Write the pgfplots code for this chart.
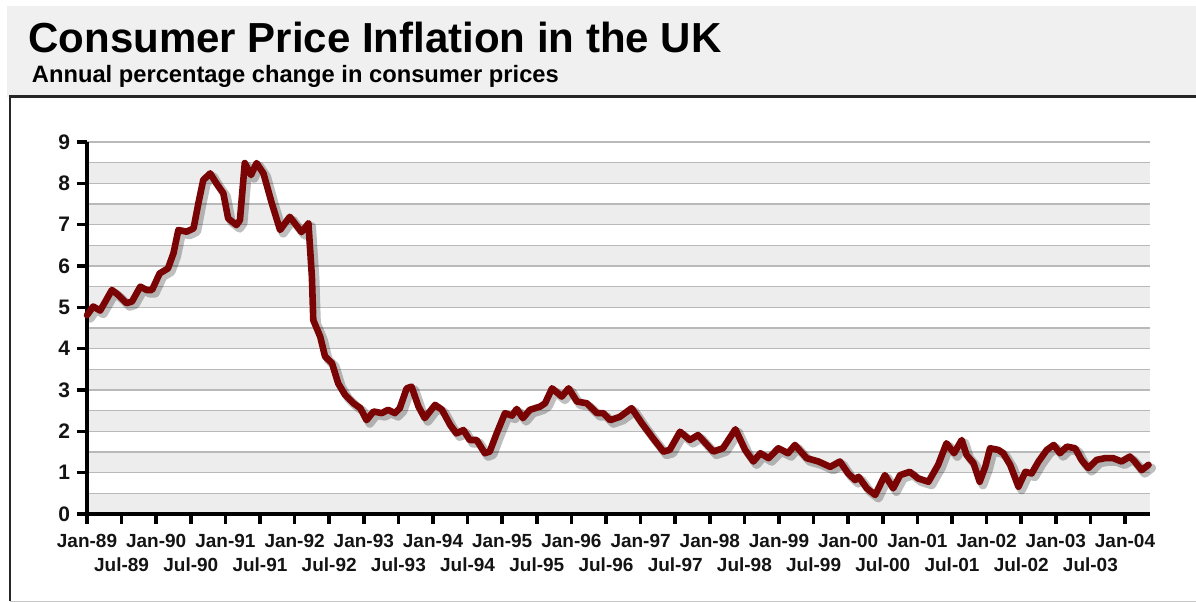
\documentclass[border=0pt]{standalone}
\usepackage{pgfplots}
\usepackage{pgfplotstable}
\pgfplotsset{compat=1.18}
\usepackage{fontspec}
\setmainfont{Liberation Sans}
\definecolor{hdr}{RGB}{240,240,240}
\definecolor{band}{RGB}{237,237,237}
\definecolor{gridc}{RGB}{185,185,185}
\definecolor{linec}{RGB}{122,4,4}
\pgfplotstableread{
t v
1989.00 4.81
1989.09 5.02
1989.19 4.92
1989.36 5.42
1989.45 5.30
1989.57 5.10
1989.65 5.14
1989.77 5.50
1989.86 5.42
1989.94 5.42
1990.05 5.82
1990.17 5.94
1990.25 6.31
1990.32 6.87
1990.44 6.83
1990.54 6.91
1990.61 7.52
1990.68 8.08
1990.78 8.24
1990.87 8.00
1990.97 7.76
1991.04 7.15
1991.16 6.99
1991.21 7.11
1991.28 8.49
1991.37 8.20
1991.45 8.49
1991.55 8.24
1991.67 7.52
1991.79 6.87
1991.93 7.19
1992.10 6.82
1992.20 7.03
1992.25 5.74
1992.27 4.69
1992.37 4.29
1992.44 3.81
1992.54 3.65
1992.63 3.16
1992.73 2.88
1992.85 2.68
1992.95 2.56
1993.04 2.27
1993.14 2.48
1993.26 2.44
1993.35 2.52
1993.45 2.44
1993.52 2.56
1993.62 3.04
1993.69 3.08
1993.79 2.60
1993.88 2.32
1994.03 2.64
1994.13 2.52
1994.25 2.15
1994.34 1.95
1994.44 2.03
1994.53 1.79
1994.63 1.79
1994.75 1.47
1994.82 1.51
1994.92 1.95
1995.04 2.44
1995.14 2.38
1995.21 2.54
1995.30 2.32
1995.40 2.52
1995.55 2.60
1995.62 2.68
1995.72 3.04
1995.86 2.84
1995.96 3.04
1996.08 2.72
1996.22 2.68
1996.37 2.44
1996.46 2.44
1996.56 2.27
1996.70 2.35
1996.87 2.56
1997.02 2.19
1997.18 1.83
1997.33 1.51
1997.42 1.55
1997.57 1.99
1997.71 1.79
1997.83 1.91
1998.05 1.51
1998.19 1.59
1998.37 2.05
1998.51 1.55
1998.63 1.27
1998.73 1.47
1998.85 1.35
1998.99 1.59
1999.13 1.47
1999.23 1.67
1999.40 1.35
1999.57 1.27
1999.74 1.14
1999.88 1.27
2000.00 0.98
2000.10 0.82
2000.15 0.90
2000.27 0.62
2000.39 0.46
2000.53 0.94
2000.65 0.62
2000.75 0.94
2000.89 1.02
2001.01 0.86
2001.16 0.78
2001.30 1.19
2001.42 1.71
2001.53 1.47
2001.64 1.79
2001.71 1.43
2001.81 1.23
2001.90 0.78
2001.98 1.14
2002.05 1.59
2002.17 1.55
2002.24 1.47
2002.34 1.19
2002.46 0.66
2002.56 1.02
2002.65 0.98
2002.75 1.27
2002.87 1.55
2002.97 1.67
2003.06 1.47
2003.16 1.63
2003.28 1.59
2003.37 1.31
2003.47 1.11
2003.59 1.31
2003.71 1.35
2003.83 1.35
2003.95 1.27
2004.07 1.39
2004.14 1.27
2004.24 1.06
2004.34 1.19
}\cpidata
\begin{document}
\begin{tikzpicture}
\path[use as bounding box, fill=white] (0pt,0pt) rectangle (598pt,301.5pt);
\fill[hdr] (3.5pt,253pt) rectangle (598pt,298.5pt);
\fill[white] (5pt,0.5pt) rectangle (598pt,253pt);
\draw[black!85, line width=1.5pt] (4.5pt,253pt) -- (598pt,253pt);
\draw[black!85, line width=1pt] (5pt,253pt) -- (5pt,0.9pt);
\draw[black!22, line width=0.6pt] (5pt,0.9pt) -- (598pt,0.9pt);
\node[anchor=base west, inner sep=0pt, font=\fontsize{21}{25}\selectfont\bfseries] at (14pt,275pt) {Consumer Price Inflation in the UK};
\node[anchor=base west, inner sep=0pt, font=\fontsize{11.85}{14}\selectfont\bfseries] at (15.8pt,260pt) {Annual percentage change in consumer prices};
\foreach \k in {0,...,8} \fill[band] (43.5pt,{44.5pt+\k*20.6667pt}) rectangle (575pt,{44.5pt+(\k+0.5)*20.6667pt});
\begin{axis}[
  at={(43.5pt,44.5pt)}, anchor=south west,
  scale only axis, width=531.5pt, height=186pt,
  xmin=1989, xmax=2004.361, ymin=0, ymax=9,
  clip=false,
  axis x line=bottom, axis y line=left,
  axis line style={-, line width=2pt, black},
  ytick={0,...,9}, minor y tick num=1,
  ymajorgrids, yminorgrids,
  major grid style={gridc, line width=0.8pt},
  minor grid style={gridc, line width=0.8pt},
  minor tick length=0pt,
  tick align=outside,
  major tick length=5pt,
  tick style={black, line width=1.8pt},
  xtick={1989,1990,1991,1992,1993,1994,1995,1996,1997,1998,1999,2000,2001,2002,2003,2004},
  xticklabels={Jan-89,Jan-90,Jan-91,Jan-92,Jan-93,Jan-94,Jan-95,Jan-96,Jan-97,Jan-98,Jan-99,Jan-00,Jan-01,Jan-02,Jan-03,Jan-04},
  extra x ticks={1989.5,1990.5,1991.5,1992.5,1993.5,1994.5,1995.5,1996.5,1997.5,1998.5,1999.5,2000.5,2001.5,2002.5,2003.5},
  extra x tick labels={Jul-89,Jul-90,Jul-91,Jul-92,Jul-93,Jul-94,Jul-95,Jul-96,Jul-97,Jul-98,Jul-99,Jul-00,Jul-01,Jul-02,Jul-03},
  extra x tick style={xticklabel style={yshift=-11.8pt}},
  xticklabel style={yshift=-1.5pt},
  /pgf/number format/assume math mode=true,
  tick label style={font=\fontsize{9.5}{11}\selectfont\bfseries, text=black!92},
  yticklabel style={font=\fontsize{10.5}{12}\selectfont\bfseries},
]
\addplot[black, opacity=0.25, line width=4.4pt, line join=round, line cap=round, xshift=1.6pt, yshift=-1.6pt, forget plot] table[x=t, y=v] {\cpidata};
\addplot[linec, line width=3.3pt, line join=round, line cap=round] table[x=t, y=v] {\cpidata};
\end{axis}
\end{tikzpicture}
\end{document}
